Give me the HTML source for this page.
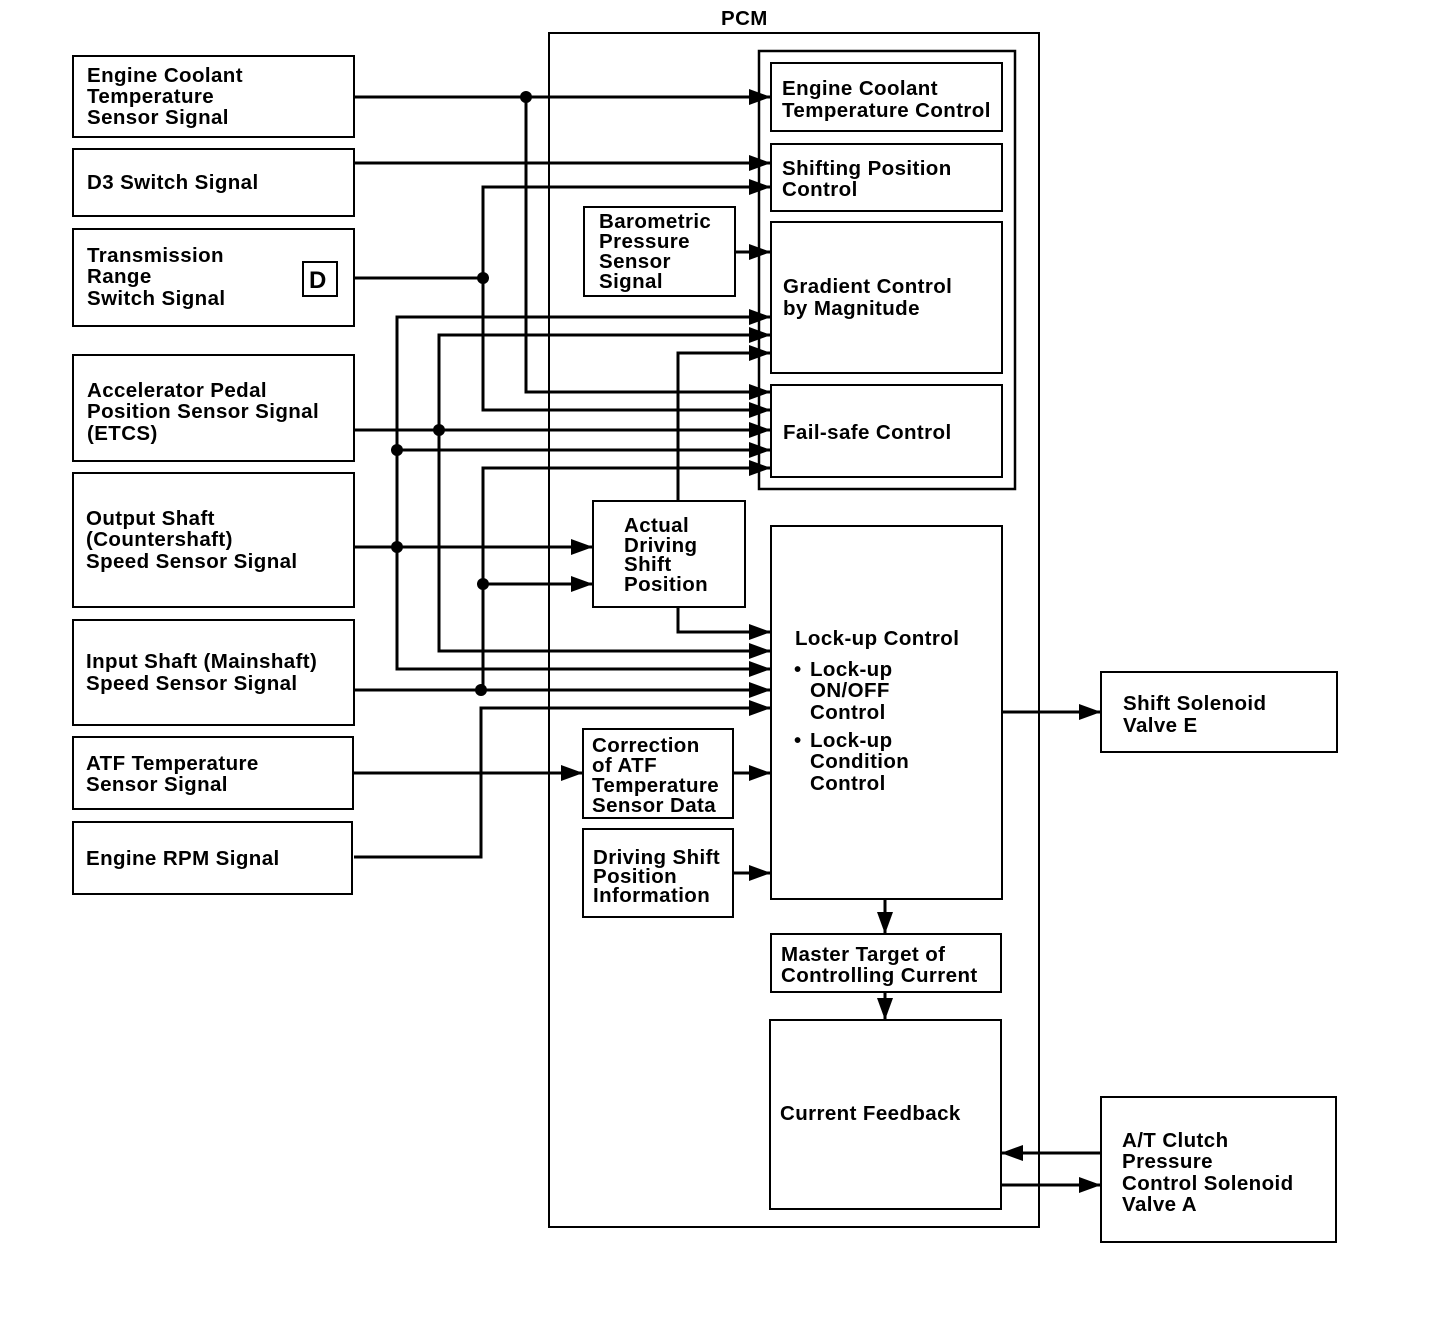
<!DOCTYPE html>
<html><head><meta charset="utf-8"><style>
html,body{margin:0;padding:0;background:#fff;}
svg{display:block;}
text{font-family:"Liberation Sans",Arial,sans-serif;font-weight:bold;font-size:20.5px;fill:#000;letter-spacing:0.4px;}
</style></head><body>
<svg width="1456" height="1340" viewBox="0 0 1456 1340" xmlns="http://www.w3.org/2000/svg">
<defs>
<marker id="a" markerUnits="userSpaceOnUse" markerWidth="24" markerHeight="18" refX="22" refY="8" orient="auto">
<path d="M0,0 L22,8 L0,16 z" fill="#000"/></marker>
</defs>
<g fill="none" stroke="#000" stroke-width="2">
<rect x="73" y="56" width="281" height="81"/>
<rect x="73" y="149" width="281" height="67"/>
<rect x="73" y="229" width="281" height="97"/>
<rect x="303" y="262" width="34" height="34"/>
<rect x="73" y="355" width="281" height="106"/>
<rect x="73" y="473" width="281" height="134"/>
<rect x="73" y="620" width="281" height="105"/>
<rect x="73" y="737" width="280" height="72"/>
<rect x="73" y="822" width="279" height="72"/>
<rect x="549" y="33" width="490" height="1194"/>
<rect x="759" y="51" width="256" height="438" stroke-width="2.5"/>
<rect x="771" y="63" width="231" height="68"/>
<rect x="771" y="144" width="231" height="67"/>
<rect x="771" y="222" width="231" height="151"/>
<rect x="771" y="385" width="231" height="92"/>
<rect x="584" y="207" width="151" height="89"/>
<rect x="593" y="501" width="152" height="106"/>
<rect x="771" y="526" width="231" height="373"/>
<rect x="583" y="729" width="150" height="89"/>
<rect x="583" y="829" width="150" height="88"/>
<rect x="771" y="934" width="230" height="58"/>
<rect x="770" y="1020" width="231" height="189"/>
<rect x="1101" y="672" width="236" height="80"/>
<rect x="1101" y="1097" width="235" height="145"/>
</g>
<g fill="none" stroke="#000" stroke-width="3">
<path d="M354,97 H771" marker-end="url(#a)"/>
<path d="M526,97 V392 H771" marker-end="url(#a)"/>
<path d="M354,163 H771" marker-end="url(#a)"/>
<path d="M771,187 H483 V410 H771" marker-end="url(#a)"/>
<path d="M354,278 H483"/>
<path d="M771,317 H397 V669 H771" marker-end="url(#a)"/>
<path d="M771,335 H439 V651 H771" marker-end="url(#a)"/>
<path d="M678,501 V353 H771" marker-end="url(#a)"/>
<path d="M735,252 H771" marker-end="url(#a)"/>
<path d="M354,430 H771" marker-end="url(#a)"/>
<path d="M397,450 H771" marker-end="url(#a)"/>
<path d="M483,690 V468 H771" marker-end="url(#a)"/>
<path d="M354,547 H593" marker-end="url(#a)"/>
<path d="M483,584 H593" marker-end="url(#a)"/>
<path d="M678,607 V632 H771" marker-end="url(#a)"/>
<path d="M354,690 H771" marker-end="url(#a)"/>
<path d="M354,857 H481 V708 H771" marker-end="url(#a)"/>
<path d="M354,773 H583" marker-end="url(#a)"/>
<path d="M733,773 H771" marker-end="url(#a)"/>
<path d="M733,873 H771" marker-end="url(#a)"/>
<path d="M885,899 V934" marker-end="url(#a)"/>
<path d="M885,992 V1020" marker-end="url(#a)"/>
<path d="M1002,712 H1101" marker-end="url(#a)"/>
<path d="M1101,1153 H1001" marker-end="url(#a)"/>
<path d="M1001,1185 H1101" marker-end="url(#a)"/>
</g>
<path d="M771,187 l-22,-8 v16 z" fill="#000"/>
<path d="M771,317 l-22,-8 v16 z" fill="#000"/>
<path d="M771,335 l-22,-8 v16 z" fill="#000"/>
<g fill="#000">
<circle cx="526" cy="97" r="6"/>
<circle cx="483" cy="278" r="6"/>
<circle cx="439" cy="430" r="6"/>
<circle cx="397" cy="450" r="6"/>
<circle cx="397" cy="547" r="6"/>
<circle cx="483" cy="584" r="6"/>
<circle cx="481" cy="690" r="6"/>
</g>
<text x="721" y="25">PCM</text>
<text x="87" y="82">Engine Coolant</text><text x="87" y="103">Temperature</text><text x="87" y="124">Sensor Signal</text>
<text x="87" y="189">D3 Switch Signal</text>
<text x="87" y="262">Transmission</text><text x="87" y="283">Range</text><text x="87" y="305">Switch Signal</text>
<text x="309" y="288" style="font-size:24px">D</text>
<text x="87" y="397">Accelerator Pedal</text><text x="87" y="418">Position Sensor Signal</text><text x="87" y="440">(ETCS)</text>
<text x="86" y="525">Output Shaft</text><text x="86" y="546">(Countershaft)</text><text x="86" y="568">Speed Sensor Signal</text>
<text x="86" y="668">Input Shaft (Mainshaft)</text><text x="86" y="690">Speed Sensor Signal</text>
<text x="86" y="770">ATF Temperature</text><text x="86" y="791">Sensor Signal</text>
<text x="86" y="865">Engine RPM Signal</text>
<text x="782" y="95">Engine Coolant</text><text x="782" y="117">Temperature Control</text>
<text x="782" y="175">Shifting Position</text><text x="782" y="196">Control</text>
<text x="783" y="293">Gradient Control</text><text x="783" y="315">by Magnitude</text>
<text x="783" y="439">Fail-safe Control</text>
<g style="font-size:18.5px">
<text x="599" y="228">Barometric</text><text x="599" y="248">Pressure</text><text x="599" y="268">Sensor</text><text x="599" y="288">Signal</text>
<text x="624" y="532">Actual</text><text x="624" y="552">Driving</text><text x="624" y="571">Shift</text><text x="624" y="591">Position</text>
<text x="592" y="752">Correction</text><text x="592" y="772">of ATF</text><text x="592" y="792">Temperature</text><text x="592" y="812">Sensor Data</text>
</g>
<g style="font-size:17.5px">
<text x="593" y="864">Driving Shift</text><text x="593" y="883">Position</text><text x="593" y="902">Information</text>
</g>
<text x="795" y="645">Lock-up Control</text>
<text x="794" y="676">•</text><text x="810" y="676">Lock-up</text><text x="810" y="697">ON/OFF</text><text x="810" y="719">Control</text>
<text x="794" y="747">•</text><text x="810" y="747">Lock-up</text><text x="810" y="768">Condition</text><text x="810" y="790">Control</text>
<text x="781" y="961">Master Target of</text><text x="781" y="982">Controlling Current</text>
<text x="780" y="1120">Current Feedback</text>
<text x="1123" y="710">Shift Solenoid</text><text x="1123" y="732">Valve E</text>
<text x="1122" y="1147">A/T Clutch</text><text x="1122" y="1168">Pressure</text><text x="1122" y="1190">Control Solenoid</text><text x="1122" y="1211">Valve A</text>
</svg>
</body></html>
